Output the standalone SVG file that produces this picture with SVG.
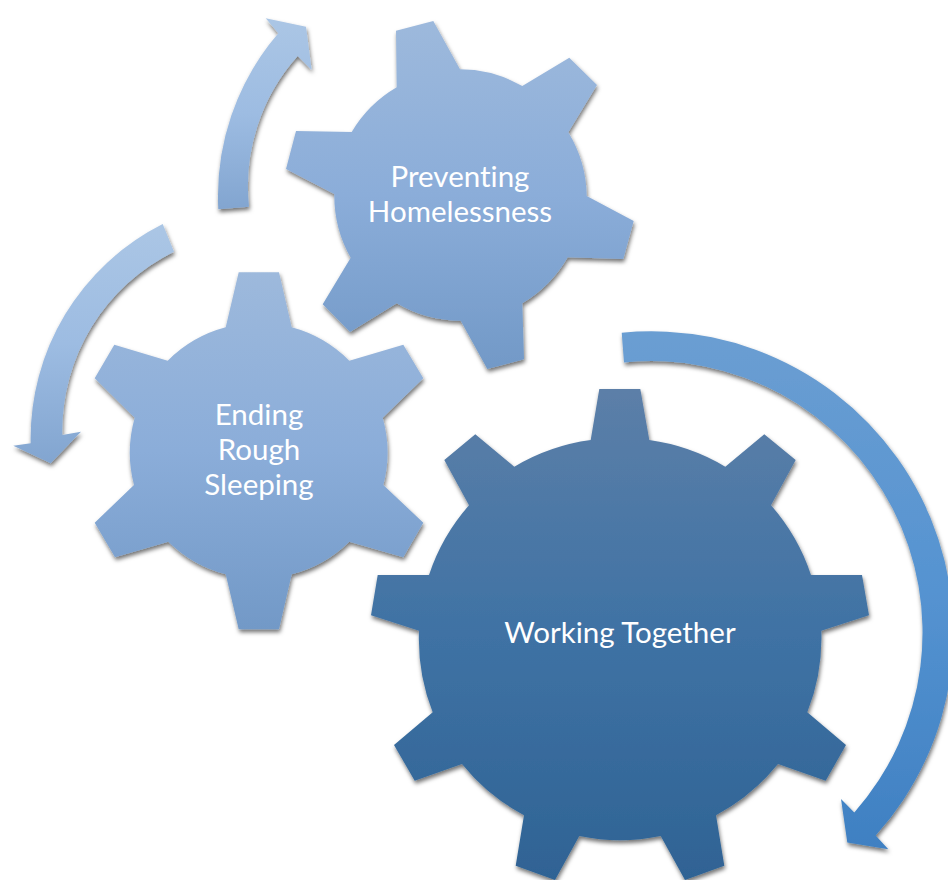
<svg xmlns="http://www.w3.org/2000/svg" width="948" height="880" viewBox="0 0 948 880">
<style>
.label{font-family:"Lato","Open Sans","Liberation Sans",sans-serif;font-size:29.5px;fill:#ffffff;text-anchor:middle;font-variant-ligatures:none}
.sh{filter:url(#shadow)}
</style>
<defs>
<filter id="shadow" x="-10%" y="-10%" width="120%" height="120%">
<feDropShadow dx="1" dy="3" stdDeviation="2" flood-color="#000000" flood-opacity="0.55"/>
</filter>
<linearGradient id="gBig" x1="0" y1="0" x2="0" y2="1"><stop offset="0" stop-color="#5c7fa8"/><stop offset="0.5" stop-color="#3f72a4"/><stop offset="1" stop-color="#2f6394"/></linearGradient>
<linearGradient id="gMid" x1="0" y1="0" x2="0" y2="1"><stop offset="0" stop-color="#9db9dc"/><stop offset="0.5" stop-color="#8badd9"/><stop offset="1" stop-color="#7299c7"/></linearGradient>
<linearGradient id="aSmall" x1="0" y1="0" x2="0" y2="1"><stop offset="0" stop-color="#abc6e5"/><stop offset="0.5" stop-color="#9dbce2"/><stop offset="1" stop-color="#82a5d0"/></linearGradient>
<linearGradient id="aBig" x1="0" y1="0" x2="0" y2="1"><stop offset="0" stop-color="#6b9ed2"/><stop offset="0.5" stop-color="#5593d1"/><stop offset="1" stop-color="#3f80c2"/></linearGradient>
</defs>
<rect width="948" height="880" fill="#ffffff"/>
<g id="connectors">
<path class="sh" fill="url(#aSmall)" d="M218.3 209.3A250 250 0 0 1 278.3 33.3L265.7 18.3L306 26.7L311.7 70L297.7 56A195 195 0 0 0 249 206.7Z"/>
<path class="sh" fill="url(#aSmall)" d="M162.7 224A240 240 0 0 0 30.7 443.3L13.3 445.7L50.7 463.3L81 431.7L62.3 435A200 200 0 0 1 174 251.7Z"/>
<path class="sh" fill="url(#aBig)" d="M621.7 332.7A302 302 0 0 1 875.7 835.5L888.3 849.3L847.3 842.4L841 799L854.3 812.4A271.4 271.4 0 0 0 624 362.4Z"/>
</g>
<g id="node-working-together">
<path class="sh" fill="url(#gBig)" d="M590.7 440L599.3 389L640.3 389L649.3 440A201 201 0 0 1 725.3 466.7L764.3 434.3L795.7 460L771 505.3A201 201 0 0 1 811 575L862 575L869 615.3L821.3 630.7A201 201 0 0 1 807.3 712.3L846 745L825.7 780.7L778 764A201 201 0 0 1 716 815.3L724.3 865.7L685 880L660.7 836A201 201 0 0 1 579.3 836L555 880L515.7 865.7L524 815.3A201 201 0 0 1 462 764L414.7 780.7L394 745L432.7 712.3A201 201 0 0 1 419 630.7L371 615.3L377.7 575L429 575A201 201 0 0 1 469 505.3L444.3 460L475.3 434.3L514.3 466.7A201 201 0 0 1 590.7 440Z"/>
<text class="label" x="620" y="643">Working Together</text>
</g>
<g id="node-preventing-homelessness">
<path class="sh" fill="url(#gMid)" d="M396.7 87.3L396 30.7L433.3 21L460 69.3A126 126 0 0 1 522.3 86L569.3 57.7L597 85L568.3 132.3A126 126 0 0 1 586.7 196L633.7 221L623.3 259L567.7 257.3A126 126 0 0 1 522.3 303.3L524 359.3L487.3 369L460.7 320.7A126 126 0 0 1 396.7 303.3L350 332L322.7 304.3L350.7 257.7A126 126 0 0 1 334.3 194L286 169L296 131L351.7 132A126 126 0 0 1 396.7 87.3Z"/>
<text class="label" x="460" y="187">Preventing</text>
<text class="label" x="460" y="222">Homelessness</text>
</g>
<g id="node-ending-rough-sleeping">
<path class="sh" fill="url(#gMid)" d="M225.7 327.3L238.7 272.3L279 272.3L291.7 327.3A128 128 0 0 1 349.3 360.7L403.3 344.7L423.3 378.3L382.7 417.7A128 128 0 0 1 383.3 485L423.3 522.7L403.3 557.3L349.3 541.7A128 128 0 0 1 291.7 574.3L279 629.3L238.7 629.3L225.7 574.3A128 128 0 0 1 168.3 541.7L115 557.3L94.7 522.7L134 485A128 128 0 0 1 134.7 417.7L94.7 378.3L114.3 344.7L167.7 360.7A128 128 0 0 1 225.7 327.3Z"/>
<text class="label" x="259" y="425">Ending</text>
<text class="label" x="259" y="460">Rough</text>
<text class="label" x="259" y="495">Sleeping</text>
</g>
</svg>
